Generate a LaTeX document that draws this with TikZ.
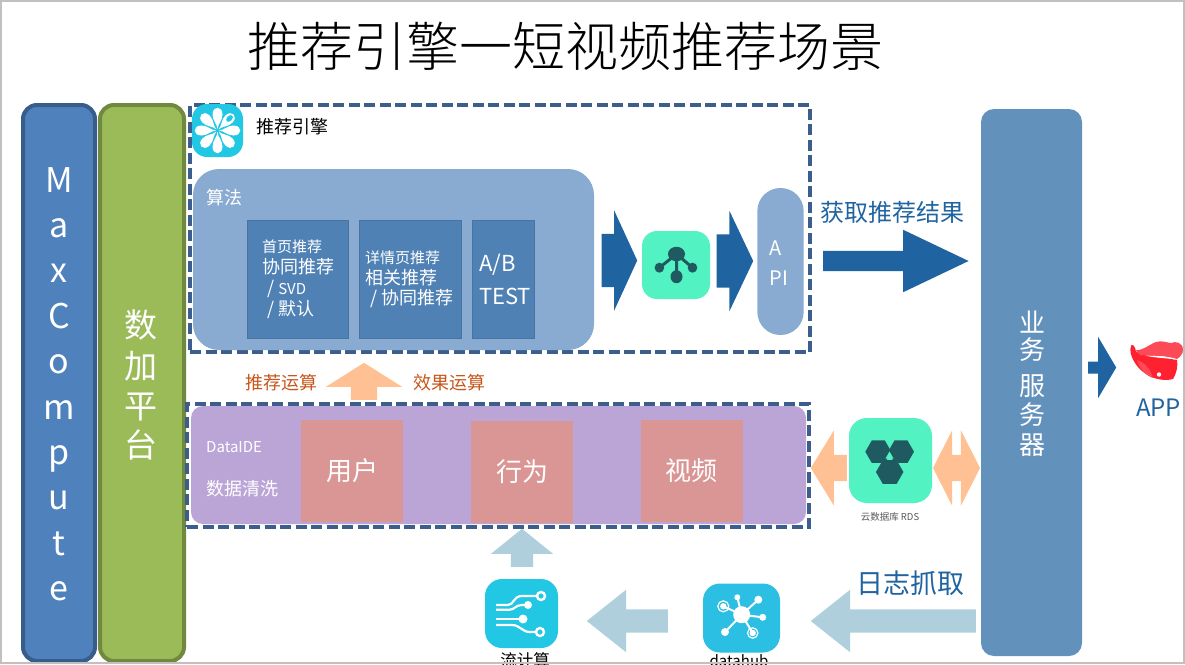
\documentclass[tikz,border=0pt]{standalone}
\usepackage{fontspec}
\setmainfont{Noto Sans CJK SC}
\newfontfamily\thinfont{Noto Sans CJK SC Light}
\usetikzlibrary{positioning, shapes.arrows, shapes.geometric}

\definecolor{framegray}{HTML}{C0C0C0}
\definecolor{dashblue}{HTML}{3B5E8C}
\definecolor{mcfill}{HTML}{4F81BD}
\definecolor{mcline}{HTML}{385D8A}
\definecolor{dpfill}{HTML}{9BBB59}
\definecolor{dpline}{HTML}{71893F}
\definecolor{algofill}{HTML}{8AABD1}
\definecolor{algobox}{HTML}{4F81B5}
\definecolor{servfill}{HTML}{6291BC}
\definecolor{purplefill}{HTML}{BBA5D6}
\definecolor{pinkfill}{HTML}{D99694}
\definecolor{mint}{HTML}{52F2C2}
\definecolor{minkdark}{HTML}{1F5A60}
\definecolor{iconcyan}{HTML}{21C7E3}
\definecolor{iconsky}{HTML}{2BBFE3}
\definecolor{arrowdark}{HTML}{1F64A0}
\definecolor{arroworange}{HTML}{FFC093}
\definecolor{arrowpale}{HTML}{AFCFDC}
\definecolor{textorange}{HTML}{C8551B}
\definecolor{lipslight}{HTML}{FC4A57}
\definecolor{lipsdark}{HTML}{FF2030}

\newcommand{\fs}[1]{\fontsize{#1}{#1}\selectfont}

\tikzset{blockarrow/.style n args={4}{single arrow, draw=none, inner xsep=0pt, inner ysep=#1/2,
    minimum width=#2, minimum height=#3, single arrow head extend={(#2-#1)/2},
    single arrow tip angle={2*atan(#2/2/#4)}, anchor=tail}}

\begin{document}
\begin{tikzpicture}[x=1pt, y=-1pt]
    \tikzstyle{txt} = [inner sep=0, anchor=west, text=white];
    \tikzstyle{ctxt} = [inner sep=0, text=white];
    \tikzstyle{panel} = [inner sep=0, outer sep=0, rectangle];
    \tikzstyle{dashbox} = [panel, draw=dashblue, line width=4.6, dash pattern=on 11 off 4.5];
    \tikzstyle{algocell} = [panel, fill=algobox, draw=algobox!90!black, line width=0.6, minimum height=118];
    \tikzstyle{datacell} = [panel, fill=pinkfill, minimum width=102, minimum height=102];
    \tikzstyle{icon} = [panel, rounded corners=15];
    \tikzstyle{hexa} = [regular polygon, regular polygon sides=6, inner sep=0, fill=minkdark];

    \useasboundingbox (0,0) rectangle (1185,664);
    \fill[white] (0,0) rectangle (1185,664);

    \node[ctxt, text=black] (title) at (565,46) {\thinfont\fs{53}推荐引擎一短视频推荐场景};

    \node[panel, fill=mcfill, draw=mcline, line width=4, rounded corners=14, minimum width=72, minimum height=556] (maxcompute) at (59,383) {};
    \node[panel, fill=dpfill, draw=dpline, line width=4, rounded corners=14, minimum width=84, minimum height=556] (dataplus) at (142,383) {};
    \foreach \ch [count=\i from 0] in {M,a,x,C,o,m,p,u,t,e} {
        \node[inner sep=0, anchor=base, text=white] (mc\i) at (59,192+45.4*\i) {\fs{34}\ch};
    }
    \foreach \ch/\yy in {数/325,加/366,平/407,台/445} {
        \node[ctxt] (dp\yy) at (141,\yy) {\fs{33}\ch};
    }

    \node[dashbox, minimum width=620, minimum height=247] (engine) at (500,228.5) {};
    \node[icon, fill=iconcyan, minimum width=51, minimum height=53] (flower) at (217.5,130.5) {};
    \foreach \ang in {90,0,45,-45,-90,-135,180,135} {
        \fill[white, shift={(flower.center)}, rotate=\ang] (1.5,0) .. controls (7,-0.5) and (10,-5) .. (16,-5) .. controls (25,-5) and (25,5) .. (16,5) .. controls (10,5) and (7,0.5) .. (1.5,0);
    }
    \fill[iconcyan, shift={(flower.center)}, rotate=45] (17,0) ellipse (4 and 2.6);
    \node[txt, text=black] (enginetext) at (256,127) {\fs{18}推荐引擎};

    \node[panel, fill=algofill, rounded corners=26, minimum width=401, minimum height=181] (algo) at (393.5,259.5) {};
    \node[txt] (algotext) at (206,198) {\fs{18}算法};
    \node[algocell, minimum width=101] (home) at (297.5,279) {};
    \node[algocell, minimum width=102, right=11pt of home] (detail) {};
    \node[algocell, minimum width=62, right=11pt of detail] (abtest) {};

    \node[txt] (h1) at (262,247) {\fs{15}首页推荐};
    \node[txt] (h2) at (262,267) {\fs{18}协同推荐};
    \node[txt] (h3) at (267,289) {\fs{18}/ \fs{15}SVD};
    \node[txt] (h4) at (267,310) {\fs{18}/ 默认};
    \node[txt] (d1) at (365,258) {\fs{15}详情页推荐};
    \node[txt] (d2) at (365,278) {\fs{18}相关推荐};
    \node[txt] (d3) at (370,299) {\fs{18}/ 协同推荐};
    \node[txt] (ab1) at (479,265) {\fs{22}A/B};
    \node[txt] (ab2) at (479,296) {\fs{22}TEST};

    \node[blockarrow={53}{100}{35.6}{23}, fill=arrowdark] (toengine) at (601.4,260.5) {};
    \node[icon, fill=mint, minimum width=68, minimum height=68] (merge) at (676,265) {};
    \draw[minkdark, line width=3] (676.5,254) -- (659.4,267.7) (676.5,254) -- (692.5,267.7) (676.5,254) -- (676.5,276.7);
    \fill[minkdark] (676.5,254) ellipse (8.5 and 7.2) (659.4,267.7) ellipse (4.8 and 5) (692.5,267.7) ellipse (4.8 and 5) (676.5,276.7) ellipse (6 and 6.5);
    \node[blockarrow={53}{100}{36.6}{23.7}, fill=arrowdark] (toapi) at (716.4,261) {};
    \node[panel, fill=algofill, rounded corners=23, minimum width=46.3, minimum height=147] (api) at (780.5,261.5) {};
    \node[ctxt] (apia) at (776,248) {\fs{20}A};
    \node[ctxt] (apib) at (779,278) {\fs{20}PI};

    \node[ctxt, text=arrowdark] (fetch) at (892.5,212) {\fs{24}获取推荐结果};
    \node[blockarrow={20}{62}{145.4}{65}, fill=arrowdark] (toserver) at (823,261) {};

    \node[panel, fill=servfill, rounded corners=13, minimum width=101, minimum height=547] (server) at (1031.5,382.5) {};
    \foreach \ch/\yy in {业/322,务/350,服/386,务/415,器/445} {
        \node[ctxt] (srv\yy) at (1032,\yy) {\fs{26}\ch};
    }

    \node[blockarrow={11.6}{61}{28}{18}, fill=arrowdark] (toapp) at (1088,367.5) {};
    \fill[lipsdark] (1131,346) .. controls (1128,354) and (1136,368) .. (1146,374) .. controls (1155,380) and (1166,381) .. (1173,379) .. controls (1177,372) and (1178,366) .. (1177,360) -- (1136,352) .. controls (1135,344) and (1131,344) .. (1131,346) -- cycle;
    \fill[lipslight] (1137,360) .. controls (1144,362) and (1150,368) .. (1153,378) .. controls (1147,376) and (1140,370) .. (1137,360) -- cycle;
    \fill[lipslight] (1135,350) .. controls (1143,351) and (1148,345) .. (1156,342) .. controls (1162,340) and (1168,343) .. (1171,343) .. controls (1175,341) and (1183,342) .. (1183,350) .. controls (1183,354) and (1180,357) .. (1177,359) .. controls (1165,355) and (1150,356) .. (1140,355) -- cycle;
    \fill[white] (1145,355.5) .. controls (1155,356) and (1167,356) .. (1175,359.5) .. controls (1167,358) and (1155,358) .. (1145,355.5) -- cycle;
    \fill[white] (1159,374.5) circle (2.2);
    \node[ctxt, text=arrowdark] (app) at (1158.5,408) {\fs{24}APP};

    \node[blockarrow={26}{76}{37}{24}, fill=arroworange, rotate=90] (upcalc) at (364,400) {};
    \node[txt, text=textorange] (calca) at (245,383) {\fs{18}推荐运算};
    \node[txt, text=textorange] (calcb) at (413,383) {\fs{18}效果运算};

    \node[dashbox, minimum width=622, minimum height=123] (cleanbox) at (498,465.5) {};
    \node[panel, fill=purplefill, rounded corners=12, minimum width=615, minimum height=118] (clean) at (498.5,465) {};
    \node[txt] (ide) at (206,447) {\fs{15}DataIDE};
    \node[txt] (cleantext) at (206,489) {\fs{18}数据清洗};
    \node[datacell] (user) at (352,471) {};
    \node[datacell] (action) at (522,472) {};
    \node[datacell] (video) at (691.5,471) {};
    \node[ctxt] (usertext) at (user) {\fs{26}用户};
    \node[ctxt] (actiontext) at (action) {\fs{26}行为};
    \node[ctxt] (videotext) at (video) {\fs{26}视频};

    \node[blockarrow={26}{75}{36}{23}, fill=arroworange, rotate=180] (fromrds) at (847,468) {};
    \node[icon, fill=mint, minimum width=83, minimum height=85, rounded corners=18] (rds) at (890.5,460.5) {};
    \node[hexa, minimum size=26] (hexa) at (878.3,451.7) {};
    \node[hexa, minimum size=26] (hexb) at (901,451.7) {};
    \node[hexa, minimum size=27.5] (hexc) at (889.7,472) {};
    \fill[mint] (889.5,451.5) -- (893.5,458.5) -- (885.5,458.5) -- cycle;
    \node[ctxt, text=black!65] (rdstext) at (890,517) {\fs{9.5}云数据库 RDS};
    \node[double arrow, draw=none, inner xsep=0, inner ysep=13, minimum width=75, minimum height=47,
        double arrow head extend=24.5, double arrow tip angle={2*atan(37.5/19)}, fill=arroworange] (rdsserver) at (956.5,468) {};

    \node[blockarrow={22}{62}{38}{25}, fill=arrowpale, rotate=90] (upstream) at (522,567) {};
    \node[icon, fill=iconcyan, minimum width=73, minimum height=69, rounded corners=17] (stream) at (521.5,613.5) {};
    \draw[white, line width=2.2] (496,605) -- (508,605) .. controls (514,605) and (513,596) .. (522,596) -- (537.5,596);
    \draw[white, line width=2.2] (496,609.8) -- (509,609.8) .. controls (515,609.8) and (515,605) .. (522,605) -- (528,605);
    \draw[white, line width=2.2] (496,619) -- (523,619);
    \draw[white, line width=2.2] (496,625) -- (512,625) .. controls (520,625) and (522,632) .. (530,632) -- (536.5,632);
    \draw[white, line width=2.4] (541,596) circle (4) (540,632) circle (4);
    \fill[white] (528,605) circle (4) (523,619) circle (4.5);
    \node[inner sep=0, anchor=base] (streamtext) at (525,666) {\fs{16.5}流计算};

    \node[blockarrow={23}{62}{81}{39}, fill=arrowpale, rotate=180] (todatahub) at (668,621) {};
    \node[icon, fill=iconsky, minimum width=77, minimum height=69, rounded corners=17] (datahub) at (741.5,618) {};
    \draw[white, line width=2] (741.7,614.7) -- (723.3,606.3) (741.7,614.7) -- (737.3,597.3) (741.7,614.7) -- (758.3,599.7) (741.7,614.7) -- (762.7,617.3) (741.7,614.7) -- (752.7,633) (741.7,614.7) -- (725,632);
    \fill[white] (741.7,614.7) circle (8.5) (737.3,597.3) circle (3) (758.3,599.7) circle (4) (762.7,617.3) circle (3.5) (725,632) circle (4) (723.3,606.3) circle (3.2) (752.7,633) circle (3.2);
    \draw[white, line width=1.2] (723.3,606.3) circle (5.5) (752.7,633) circle (5.2);
    \node[inner sep=0, anchor=base] (datahubtext) at (739,666.5) {\fs{15}datahub};

    \node[blockarrow={23}{62}{165}{39}, fill=arrowpale, rotate=180] (logarrow) at (976,621) {};
    \node[ctxt, text=arrowdark] (logtext) at (910,583) {\fs{27}日志抓取};

    \draw[framegray, line width=2] (1,1) rectangle (1184,663);
\end{tikzpicture}
\end{document}
